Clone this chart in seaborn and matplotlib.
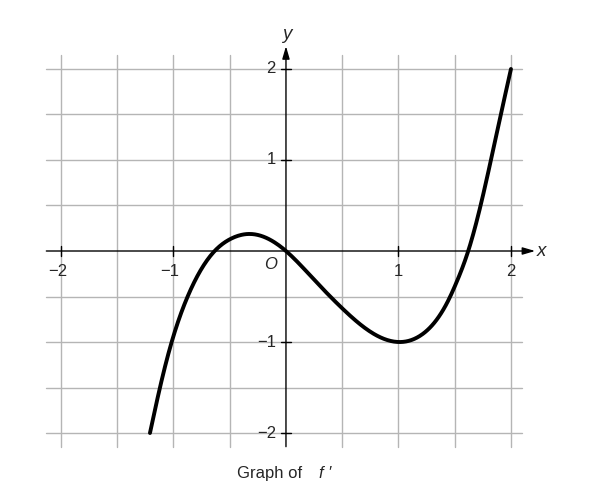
import numpy as np
import pandas as pd
import matplotlib
matplotlib.use("Agg")
import matplotlib.pyplot as plt
import seaborn as sns

# Values (graph of f')
curve_x = [-1.209, -1.12, -1.016, -0.874, -0.634, -0.5, -0.314, 0.0, 0.25,
           0.5, 0.75, 1.0, 1.206, 1.46, 1.5, 1.62, 1.73, 1.822, 1.91, 2.0]
curve_y = [-2.0, -1.5, -1.0, -0.5, 0.0, 0.128, 0.187, 0.0, -0.315,
           -0.63, -0.887, -1.0, -0.92, -0.5, -0.39, 0.0, 0.5, 1.0, 1.5, 2.0]
x_ticks = [-2, -1, 1, 2]
x_tick_labels = ["\u22122", "\u22121", "1", "2"]
y_ticks = [-2, -1, 1, 2]
y_tick_labels = ["\u22122", "\u22121", "1", "2"]
grid_x = [-2, -1.5, -1, -0.5, 0.5, 1, 1.5, 2]
grid_y = [-2, -1.5, -1, -0.5, 0.5, 1, 1.5, 2]
caption = "Graph of"


def cubic_spline(xs, ys, n=25):
    # natural C2 cubic spline rendering through the read points
    x = np.asarray(xs, float)
    y = np.asarray(ys, float)
    N = len(x)
    h = np.diff(x)
    A = np.zeros((N, N))
    b = np.zeros(N)
    A[0, 0] = 1.0
    A[-1, -1] = 1.0
    for i in range(1, N - 1):
        A[i, i - 1] = h[i - 1]
        A[i, i] = 2 * (h[i - 1] + h[i])
        A[i, i + 1] = h[i]
        b[i] = 6 * ((y[i + 1] - y[i]) / h[i] - (y[i] - y[i - 1]) / h[i - 1])
    M = np.linalg.solve(A, b)
    ox, oy = [], []
    for k in range(N - 1):
        t = np.linspace(x[k], x[k + 1], n, endpoint=False)
        a = x[k + 1] - t
        c = t - x[k]
        s = (M[k] * a ** 3 / (6 * h[k]) + M[k + 1] * c ** 3 / (6 * h[k])
             + (y[k] / h[k] - M[k] * h[k] / 6) * a + (y[k + 1] / h[k] - M[k + 1] * h[k] / 6) * c)
        ox.append(t)
        oy.append(s)
    ox.append([x[-1]])
    oy.append([y[-1]])
    return np.concatenate(ox), np.concatenate(oy)


sns.set_style("white")
plt.rcParams['font.family'] = ['Liberation Sans', 'DejaVu Sans']

fig = plt.figure(figsize=(5.95, 4.99), dpi=100)
ax = fig.add_axes([0, 0, 1, 1])

gcol = "#b5b5b5"
for gx in grid_x:
    ax.plot([gx, gx], [-2.15, 2.15], color=gcol, lw=1.0, zorder=1)
for gy in grid_y:
    ax.plot([-2.13, 2.1], [gy, gy], color=gcol, lw=1.0, zorder=1)

# axes with arrows
ax.annotate("", xy=(2.215, 0), xytext=(-2.13, 0),
            arrowprops=dict(arrowstyle="-|>,head_length=0.75,head_width=0.22", color="black",
                            lw=1.0, shrinkA=0, shrinkB=0), zorder=2)
ax.annotate("", xy=(0, 2.25), xytext=(0, -2.15),
            arrowprops=dict(arrowstyle="-|>,head_length=0.75,head_width=0.22", color="black",
                            lw=1.0, shrinkA=0, shrinkB=0), zorder=2)

fs = 12
for t, lab in zip(x_ticks, x_tick_labels):
    ax.plot([t, t], [-0.055, 0.055], color="black", lw=1.0, zorder=2)
    dx = -0.03 if lab.startswith("\u2212") else 0
    ax.text(t + dx, -0.22, lab, ha="center", va="center", fontsize=fs)
for t, lab in zip(y_ticks, y_tick_labels):
    ax.plot([-0.045, 0.045], [t, t], color="black", lw=1.0, zorder=2)
    ax.text(-0.09, t, lab, ha="right", va="center", fontsize=fs)

ax.text(-0.138, -0.145, "O", ha="center", va="center", fontsize=fs, style="italic")
ax.text(2.23, 0.0, "x", ha="left", va="center", fontsize=13.5, style="italic")
ax.text(0.01, 2.29, "y", ha="center", va="bottom", fontsize=13.5, style="italic")

sx, sy = cubic_spline(curve_x, curve_y)
df = pd.DataFrame({"x": sx, "y": sy})
sns.lineplot(data=df, x="x", y="y", ax=ax, color="black", lw=2.8, sort=False,
             estimator=None, zorder=3)
ax.set_xlim(-2.542, 2.747)
ax.set_ylim(-2.725, 2.758)
ax.axis("off")

ax.text(-0.436, -2.44, caption, ha="left", va="center", fontsize=fs)
ax.text(0.29, -2.44, "f \u2032", ha="left", va="center", fontsize=fs, style="italic")

fig.savefig("out.png", dpi=100)
